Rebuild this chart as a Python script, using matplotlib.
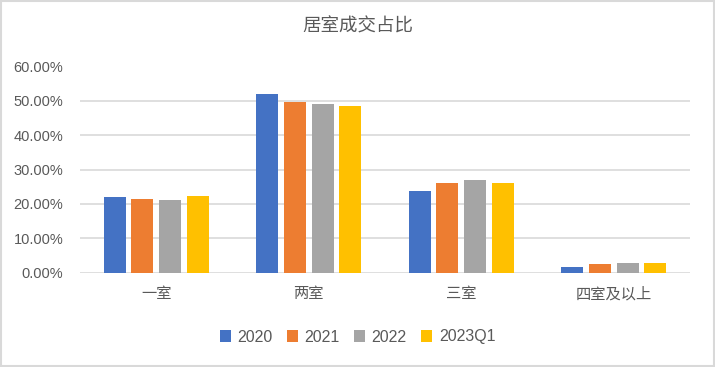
import numpy as np
import matplotlib
matplotlib.use('Agg')
import matplotlib.pyplot as plt
from matplotlib.patches import Rectangle
from matplotlib.ticker import FuncFormatter

plt.rcParams['font.family'] = ['Liberation Sans', 'Noto Sans CJK SC', 'DejaVu Sans']

categories = ['一室', '两室', '三室', '四室及以上']
series = ['2020', '2021', '2022', '2023Q1']
v2020 = [22.0, 51.9, 23.7, 1.8]
v2021 = [21.4, 49.6, 26.0, 2.4]
v2022 = [21.1, 49.0, 26.9, 2.7]
v2023q1 = [22.3, 48.5, 26.0, 2.7]
colors = ['#4472C4', '#ED7D31', '#A5A5A5', '#FFC000']

text_color = '#595959'
cjk = ['Noto Sans CJK SC', 'DejaVu Sans']

fig = plt.figure(figsize=(7.15, 3.67), dpi=100)
ax = fig.add_axes([80 / 715, 94.3 / 367, 610 / 715, 206.2 / 367])

x = np.arange(len(categories))
step = 0.182
width = 0.144
for i, (name, vals) in enumerate(zip(series, [v2020, v2021, v2022, v2023q1])):
    ax.bar(x + (i - 1.5) * step, np.array(vals) / 100, width,
           color=colors[i], label=name, zorder=3)

ax.set_xlim(-0.5, len(categories) - 0.5)
ax.set_ylim(0, 0.6)
ax.set_yticks(np.arange(0, 0.61, 0.1))
ax.yaxis.set_major_formatter(FuncFormatter(lambda v, p: f'{v * 100:.2f}%'))
ax.set_xticks(x)
ax.set_xticklabels(categories, family=cjk, fontsize=11, color=text_color)
ax.grid(axis='y', color='#D9D9D9', linewidth=1.2, zorder=0)
ax.tick_params(axis='both', length=0, colors=text_color)
ax.tick_params(axis='y', labelsize=10.5, pad=12)
ax.tick_params(axis='x', pad=9)
for s in ax.spines.values():
    s.set_visible(False)

fig.text(0.5, 1 - 27 / 367, '居室成交占比', family=cjk, fontsize=13.3,
         color=text_color, ha='center', va='center')

leg = fig.legend(loc='center', bbox_to_anchor=(0.5, 1 - 337 / 367), ncol=4,
                 frameon=False, fontsize=11.5, handlelength=0.7, handleheight=0.7,
                 handletextpad=0.4, columnspacing=0.9, labelcolor=text_color)

fig.patches.append(Rectangle((0.001, 0.002), 0.997, 0.995, transform=fig.transFigure,
                             fill=False, edgecolor='#D9D9D9', linewidth=1.5))

fig.savefig('out.png', dpi=100, facecolor='white')
